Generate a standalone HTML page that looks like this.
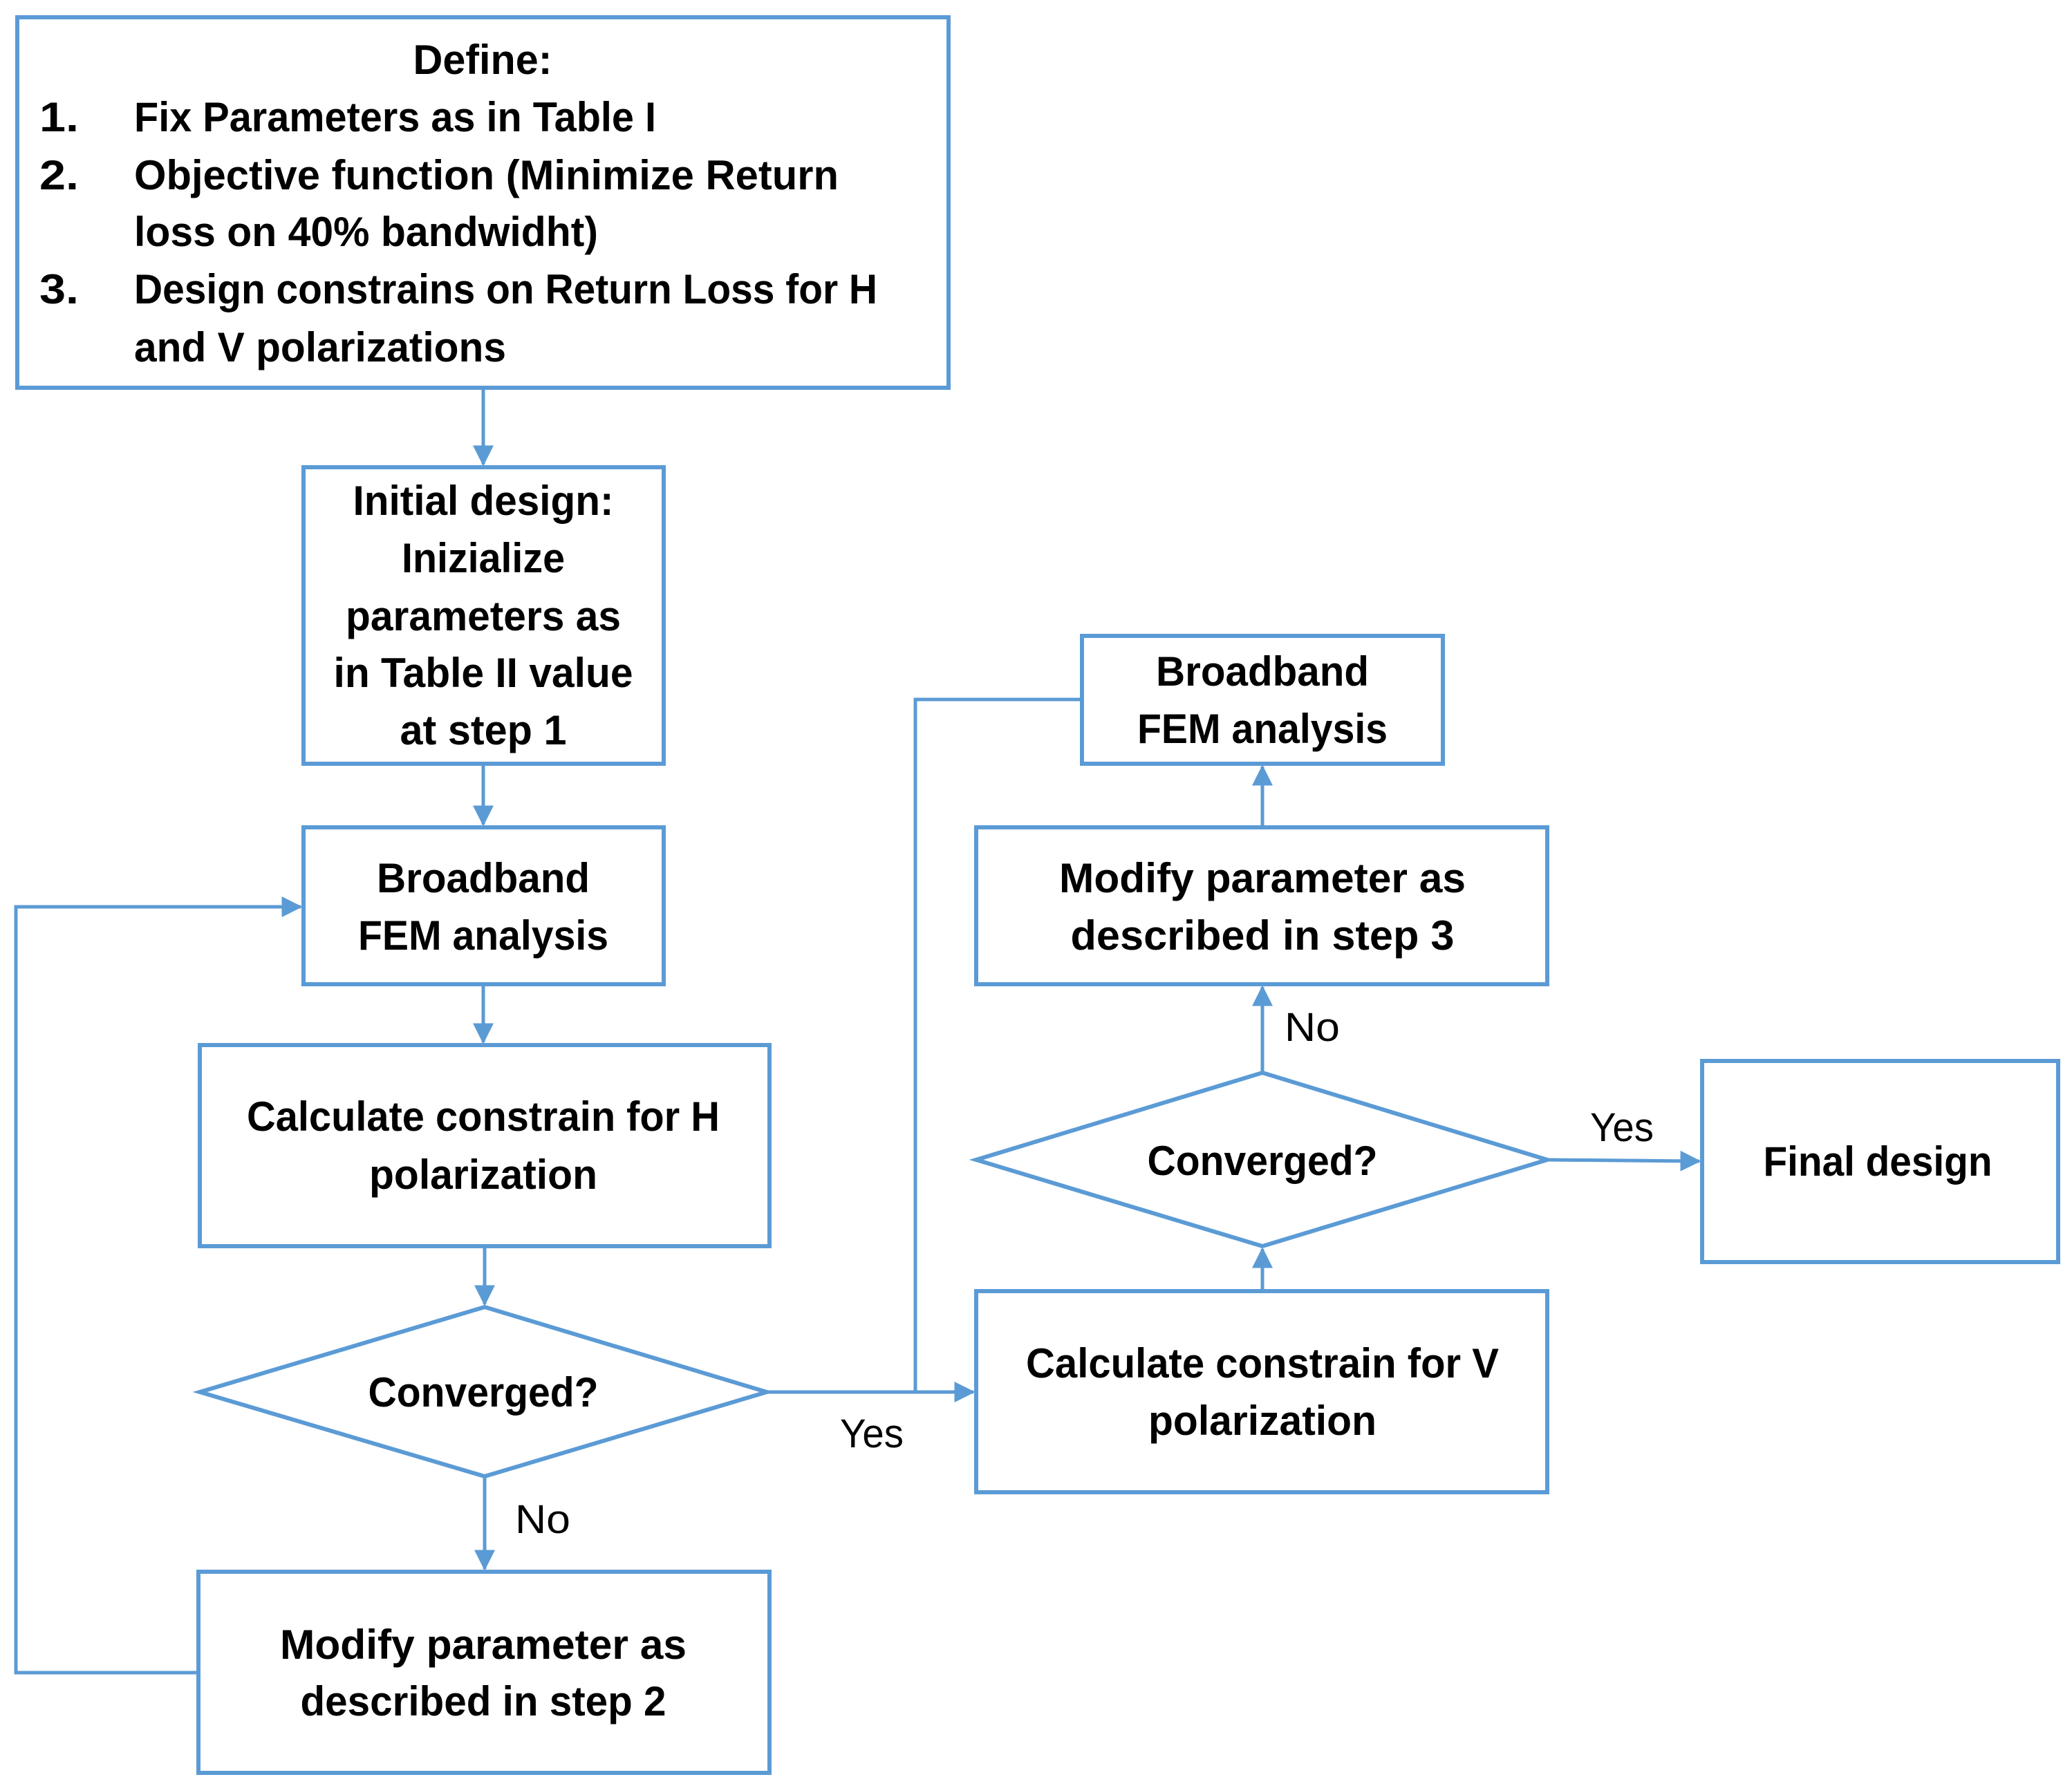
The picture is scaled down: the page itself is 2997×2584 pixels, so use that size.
<!DOCTYPE html>
<html><head><meta charset="utf-8"><style>html,body{margin:0;padding:0;background:#fff}svg{display:block}</style></head>
<body>
<svg width="2997" height="2584" viewBox="0 0 2997 2584" xmlns="http://www.w3.org/2000/svg">
<defs>
<marker id="a" markerWidth="6" markerHeight="6" refX="5.5" refY="3" orient="auto" markerUnits="strokeWidth">
<path d="M0,0 L6,3 L0,6 z" fill="#5B9BD5"/></marker>
</defs>
<g fill="#fff" stroke="#5B9BD5" stroke-width="6">
<rect x="25" y="25" width="1347" height="536"/>
<rect x="439" y="676" width="521" height="429"/>
<rect x="439" y="1197" width="521" height="227"/>
<rect x="289" y="1512" width="824" height="291"/>
<polygon points="289,2014 701,1891 1109,2014 701,2136"/>
<rect x="287" y="2274" width="826" height="291"/>
<rect x="1565" y="920" width="522" height="185"/>
<rect x="1412" y="1197" width="826" height="227"/>
<polygon points="1412,1678 1826,1552 2238,1678 1826,1803"/>
<rect x="1412" y="1868" width="826" height="291"/>
<rect x="2462" y="1535" width="515" height="291"/>
</g>
<g fill="none" stroke="#5B9BD5" stroke-width="5">
<line x1="699" y1="561" x2="699" y2="672" marker-end="url(#a)"/>
<line x1="699" y1="1105" x2="699" y2="1193" marker-end="url(#a)"/>
<line x1="699" y1="1424" x2="699" y2="1508" marker-end="url(#a)"/>
<line x1="701" y1="1803" x2="701" y2="1887" marker-end="url(#a)"/>
<line x1="701" y1="2136" x2="701" y2="2270" marker-end="url(#a)"/>
<polyline points="287,2420 23,2420 23,1312 435,1312" marker-end="url(#a)"/>
<line x1="1109" y1="2014" x2="1408" y2="2014" marker-end="url(#a)"/>
<polyline points="1324,2014 1324,1012 1565,1012"/>
<line x1="1826" y1="1868" x2="1826" y2="1807" marker-end="url(#a)"/>
<line x1="1826" y1="1552" x2="1826" y2="1428" marker-end="url(#a)"/>
<line x1="1826" y1="1197" x2="1826" y2="1109" marker-end="url(#a)"/>
<line x1="2238" y1="1678" x2="2458" y2="1680" marker-end="url(#a)"/>
</g>
<g font-family="'Liberation Sans', sans-serif" font-weight="bold" font-size="60" fill="#000">
<text x="698" y="107" text-anchor="middle" textLength="201" lengthAdjust="spacingAndGlyphs">Define:</text>
<text x="57" y="190" textLength="57" lengthAdjust="spacingAndGlyphs">1.</text>
<text x="194" y="190" textLength="755" lengthAdjust="spacingAndGlyphs">Fix Parameters as in Table I</text>
<text x="57" y="274" textLength="57" lengthAdjust="spacingAndGlyphs">2.</text>
<text x="194" y="274" textLength="1019" lengthAdjust="spacingAndGlyphs">Objective function (Minimize Return</text>
<text x="194" y="356" textLength="671" lengthAdjust="spacingAndGlyphs">loss on 40% bandwidht)</text>
<text x="57" y="439" textLength="57" lengthAdjust="spacingAndGlyphs">3.</text>
<text x="194" y="439" textLength="1075" lengthAdjust="spacingAndGlyphs">Design constrains on Return Loss for H</text>
<text x="194" y="523" textLength="538" lengthAdjust="spacingAndGlyphs">and V polarizations</text>

<g text-anchor="middle">
<text x="699" y="745" textLength="377" lengthAdjust="spacingAndGlyphs">Initial design:</text>
<text x="699" y="828" textLength="236" lengthAdjust="spacingAndGlyphs">Inizialize</text>
<text x="699" y="912" textLength="398" lengthAdjust="spacingAndGlyphs">parameters as</text>
<text x="699" y="994" textLength="433" lengthAdjust="spacingAndGlyphs">in Table II value</text>
<text x="699" y="1077" textLength="241" lengthAdjust="spacingAndGlyphs">at step 1</text>

<text x="699" y="1291" textLength="308" lengthAdjust="spacingAndGlyphs">Broadband</text>
<text x="699" y="1374" textLength="362" lengthAdjust="spacingAndGlyphs">FEM analysis</text>

<text x="699" y="1636" textLength="684" lengthAdjust="spacingAndGlyphs">Calculate constrain for H</text>
<text x="699" y="1720" textLength="330" lengthAdjust="spacingAndGlyphs">polarization</text>

<text x="699" y="2035" textLength="333" lengthAdjust="spacingAndGlyphs">Converged?</text>

<text x="699" y="2400" textLength="588" lengthAdjust="spacingAndGlyphs">Modify parameter as</text>
<text x="699" y="2482" textLength="529" lengthAdjust="spacingAndGlyphs">described in step 2</text>

<text x="1826" y="992" textLength="308" lengthAdjust="spacingAndGlyphs">Broadband</text>
<text x="1826" y="1075" textLength="362" lengthAdjust="spacingAndGlyphs">FEM analysis</text>

<text x="1826" y="1291" textLength="588" lengthAdjust="spacingAndGlyphs">Modify parameter as</text>
<text x="1826" y="1374" textLength="555" lengthAdjust="spacingAndGlyphs">described in step 3</text>

<text x="1826" y="1700" textLength="333" lengthAdjust="spacingAndGlyphs">Converged?</text>

<text x="1826" y="1993" textLength="684" lengthAdjust="spacingAndGlyphs">Calculate constrain for V</text>
<text x="1826" y="2076" textLength="330" lengthAdjust="spacingAndGlyphs">polarization</text>

<text x="2716" y="1701" textLength="331" lengthAdjust="spacingAndGlyphs">Final design</text>
</g>
<g font-weight="normal" font-size="58">
<text x="1215" y="2094" textLength="92" lengthAdjust="spacingAndGlyphs">Yes</text>
<text x="745" y="2218" textLength="80" lengthAdjust="spacingAndGlyphs">No</text>
<text x="1858" y="1506" textLength="80" lengthAdjust="spacingAndGlyphs">No</text>
<text x="2300" y="1651" textLength="92" lengthAdjust="spacingAndGlyphs">Yes</text>
</g>
</g>
</svg>
</body></html>
